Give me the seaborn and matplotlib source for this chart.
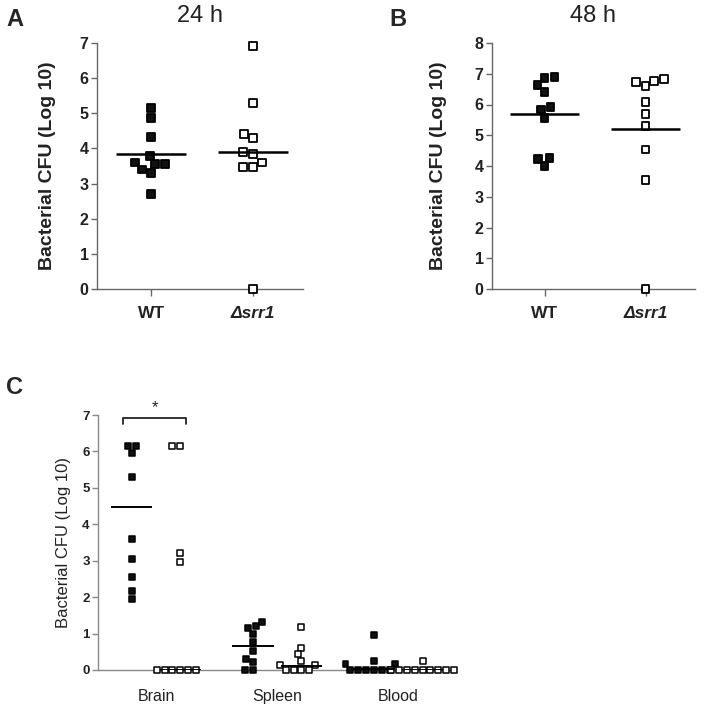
import numpy as np
import pandas as pd
import matplotlib
matplotlib.use('Agg')
import matplotlib.pyplot as plt
import seaborn as sns

# --- data (log10 CFU) ---
strains = ['WT', 'Δsrr1']

# A: 24 h
wt_24h = [5.15, 4.86, 4.33, 3.79, 3.55, 3.40, 3.30, 3.55, 3.60, 2.70]
srr1_24h = [6.92, 5.29, 4.40, 4.29, 3.84, 3.89, 3.60, 3.48, 3.48, 0.0]
lines_24h = [3.83, 3.91]

# B: 48 h
wt_48h = [6.89, 6.87, 6.63, 6.41, 5.84, 5.93, 5.55, 4.27, 4.24, 4.00]
srr1_48h = [6.84, 6.72, 6.60, 6.76, 6.07, 5.68, 5.30, 4.54, 3.54, 0.0]
lines_48h = [5.68, 5.21]

# C: organs
tissues = ['Brain', 'Spleen', 'Blood']
wt_brain = [6.15, 5.97, 6.15, 5.29, 3.59, 3.04, 2.55, 2.18, 1.94]
srr1_brain = [6.15, 6.15, 3.22, 2.96, 0.0, 0.0, 0.0, 0.0, 0.0, 0.0]
wt_spleen = [1.21, 1.16, 1.32, 1.00, 0.78, 0.52, 0.23, 0.30, 0.0, 0.0]
srr1_spleen = [1.17, 0.61, 0.43, 0.25, 0.14, 0.14, 0.0, 0.0, 0.0, 0.0]
wt_blood = [0.96, 0.25, 0.16, 0.16, 0.0, 0.0, 0.0, 0.0, 0.0, 0.0]
srr1_blood = [0.25, 0.0, 0.0, 0.0, 0.0, 0.0, 0.0, 0.0, 0.0, 0.0]
lines_organs = [4.47, 0.0, 0.66, 0.12, 0.03, 0.0]  # Brain WT, Brain srr1, Spleen WT, ...

sns.set_style('ticks')
plt.rcParams['font.family'] = ['Liberation Sans', 'DejaVu Sans']

W, H = 704, 709
fig = plt.figure(figsize=(W / 100, H / 100), dpi=100)


def px_axes(left, top, right, bottom):
    return fig.add_axes([left / W, 1 - bottom / H, (right - left) / W, (bottom - top) / H])


pal = {'WT': '#111111', 'Δsrr1': 'white'}
spine_col = '#666666'


def two_group_panel(ax, wt, mut, lines, ymax, xlim, pad):
    df = pd.DataFrame({'strain': ['WT'] * len(wt) + ['Δsrr1'] * len(mut),
                       'cfu': wt + mut})
    sns.swarmplot(data=df, x='strain', y='cfu', hue='strain', order=strains,
                  hue_order=strains, palette=pal, marker='s', size=5.6,
                  linewidth=1.3, edgecolor='black', legend=False,
                  clip_on=False, zorder=3, ax=ax)
    pos = np.arange(len(strains))
    ax.hlines(lines, pos - 0.34, pos + 0.34, color='black', lw=1.8, zorder=4)
    ax.set_xlim(*xlim)
    ax.set_ylim(0, ymax)
    ax.set_yticks(range(ymax + 1))
    ax.set_xlabel('')
    ax.set_ylabel('Bacterial CFU (Log 10)', fontsize=14, fontweight='bold',
                  color='#222222', labelpad=pad)
    ax.set_xticks(pos)
    ax.set_xticklabels(strains, fontsize=12.5, fontweight='bold', color='#222222')
    ax.get_xticklabels()[1].set_fontstyle('italic')
    ax.tick_params(axis='y', labelsize=11.5, length=4, width=1, color=spine_col,
                   pad=2, labelcolor='#222222')
    for lab in ax.get_yticklabels():
        lab.set_fontweight('bold')
    ax.tick_params(axis='x', length=5, width=1, color=spine_col, pad=7)
    sns.despine(ax=ax)
    for s in ['left', 'bottom']:
        ax.spines[s].set_color(spine_col)
        ax.spines[s].set_linewidth(1)


axA = px_axes(97, 43, 303, 289)
two_group_panel(axA, wt_24h, srr1_24h, lines_24h, 7, (-0.53, 1.49), 17)
axB = px_axes(492, 43, 695, 289)
two_group_panel(axB, wt_48h, srr1_48h, lines_48h, 8, (-0.52, 1.49), 20)

# --- panel C ---
axC = px_axes(98, 415, 454, 670)
groups = [wt_brain, srr1_brain, wt_spleen, srr1_spleen, wt_blood, srr1_blood]
rows = []
for i, vals in enumerate(groups):
    for v in vals:
        rows.append((tissues[i // 2], strains[i % 2], v))
dfC = pd.DataFrame(rows, columns=['tissue', 'strain', 'cfu'])
sns.swarmplot(data=dfC, x='tissue', y='cfu', hue='strain', order=tissues,
              hue_order=strains, dodge=True, palette=pal, marker='s', size=4.3,
              linewidth=1.1, edgecolor='black', legend=False, clip_on=False,
              zorder=3, ax=axC)
centers = np.repeat(np.arange(len(tissues)), 2) + np.tile([-0.2, 0.2], len(tissues))
axC.hlines(lines_organs, centers - 0.17, centers + 0.17, color='black', lw=1.4, zorder=4)

# significance bracket Brain WT vs srr1
axC.plot([-0.27, -0.27, 0.25, 0.25], [6.75, 6.92, 6.92, 6.75], color='#222222',
         lw=1.3, clip_on=False)
axC.text(-0.01, 7.0, '*', ha='center', va='bottom', fontsize=12, color='#222222')

axC.set_xlim(-0.48, 2.46)
axC.set_ylim(0, 7)
axC.set_yticks(range(8))
axC.set_xlabel('')
axC.set_ylabel('Bacterial CFU (Log 10)', fontsize=12, color='#222222', labelpad=8)
axC.set_xticks(range(len(tissues)))
axC.set_xticklabels(tissues, fontsize=11.5, color='#222222')
axC.tick_params(axis='x', length=0, pad=14)
axC.tick_params(axis='y', labelsize=9.5, length=4, width=1, color='#888888',
                pad=2, labelcolor='#222222')
for lab in axC.get_yticklabels():
    lab.set_fontweight('bold')
sns.despine(ax=axC)
for s in ['left', 'bottom']:
    axC.spines[s].set_color('#888888')
    axC.spines[s].set_linewidth(1)

# panel letters and titles
fig.text(15 / W, 1 - 20 / H, 'A', fontsize=17, fontweight='bold', ha='center', va='center')
fig.text(398 / W, 1 - 20 / H, 'B', fontsize=17, fontweight='bold', ha='center', va='center')
fig.text(15 / W, 1 - 388 / H, 'C', fontsize=17, fontweight='bold', ha='center', va='center')
fig.text(200 / W, 1 - 16 / H, '24 h', fontsize=17, ha='center', va='center', color='#222222')
fig.text(593 / W, 1 - 16 / H, '48 h', fontsize=17, ha='center', va='center', color='#222222')

fig.savefig('out.png', dpi=100, facecolor='white')
